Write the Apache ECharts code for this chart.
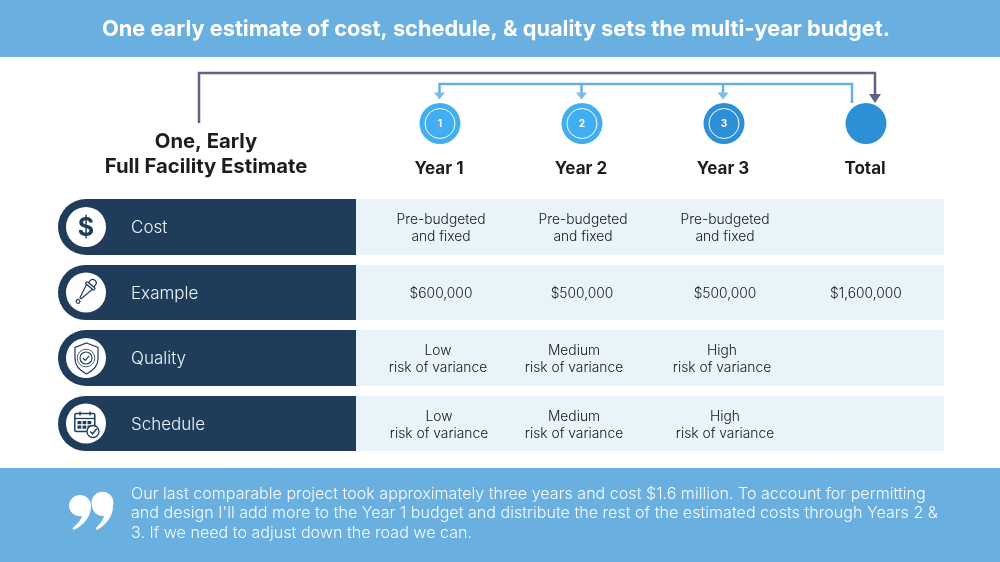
<!DOCTYPE html>
<html>
<head>
<meta charset="utf-8">
<style>html,body{margin:0;padding:0;background:#fff}#chart{width:1000px;height:562px}</style>
<script src="https://cdn.jsdelivr.net/npm/echarts@6/dist/echarts.min.js"></script>
</head>
<body>
<div id="chart"></div>
<script>
var titleText = 'One early estimate of cost, schedule, & quality sets the multi-year budget.';
var leadLines = ['One, Early', 'Full Facility Estimate'];
var columns = ['Year 1', 'Year 2', 'Year 3', 'Total'];
var stepLabels = ['1', '2', '3', ''];
var rowNames = ['Cost', 'Example', 'Quality', 'Schedule'];
var costCells = ['Pre-budgeted\nand fixed', 'Pre-budgeted\nand fixed', 'Pre-budgeted\nand fixed', ''];
var exampleCells = ['$600,000', '$500,000', '$500,000', '$1,600,000'];
var qualityCells = ['Low\nrisk of variance', 'Medium\nrisk of variance', 'High\nrisk of variance', ''];
var scheduleCells = ['Low\nrisk of variance', 'Medium\nrisk of variance', 'High\nrisk of variance', ''];
var noteLines = [
    'Our last comparable project took approximately three years and cost $1.6 million. To account for permitting',
    "and design I'll add more to the Year 1 budget and distribute the rest of the estimated costs through Years 2 &",
    '3. If we need to adjust down the road we can.'
];

var BLUE = '#69b0e0', PALEBLUE = '#7dbce6', NAVY = '#1f3d5a', PALE = '#e9f3fa', INK = '#1d1d1f', SLATE = '#5f6185';
var FONT = 'Inter, "Noto Sans", sans-serif';

var rowTops = [199, 265, 330, 396];
var rowHeights = [56, 55, 56, 55];
var colX = [440, 582, 724, 866];
var cellX = [
    [441, 583, 725, 866],
    [441, 582, 725, 866],
    [438, 574, 722, 866],
    [439, 574, 725, 866]
];
var tableCells = [costCells, exampleCells, qualityCells, scheduleCells];

var g = [];
var pathCount = 0;

function text(x, y, str, size, color, weight, align, lineHeight) {
    g.push({
        type: 'text',
        style: {
            x: x, y: y, text: str, fill: color,
            font: (weight || 400) + ' ' + size + 'px ' + FONT,
            textAlign: align || 'center', textVerticalAlign: 'middle',
            lineHeight: lineHeight || size * 1.2
        }
    });
}
function rect(x, y, w, h, fill, r) {
    g.push({ type: 'rect', shape: { x: x, y: y, width: w, height: h, r: r || 0 }, style: { fill: fill } });
}
function poly(points, color, width) {
    g.push({ type: 'polyline', shape: { points: points }, style: { stroke: color, lineWidth: width, fill: null } });
}
function arrow(x, tipY, color, half, len) {
    g.push({ type: 'polygon', shape: { points: [[x - half, tipY - len], [x + half, tipY - len], [x, tipY]] }, style: { fill: color } });
}
function circle(cx, cy, r, style) {
    g.push({ type: 'circle', shape: { cx: cx, cy: cy, r: r }, style: style });
}
// the graphic component has no plain path type, so each outline gets registered
function svgPath(d, style) {
    var name = 'outline' + (pathCount++);
    echarts.graphic.registerShape(name, echarts.graphic.extendPath(d, {}));
    g.push({ type: name, style: style });
}

// header and footer bands
rect(0, 0, 1000, 57, BLUE);
rect(0, 468, 1000, 94, BLUE);
text(496, 29, titleText, 21.75, '#fff', 700);

// brackets
poly([[199, 123], [199, 73], [875, 73], [875, 95]], SLATE, 2.5);
arrow(875, 103, SLATE, 6, 9);
poly([[852, 103], [852, 84], [439.5, 84], [439.5, 93]], BLUE, 2.5);
poly([[581.5, 84], [581.5, 93]], BLUE, 2.5);
poly([[723, 84], [723, 93]], BLUE, 2.5);
[439.5, 581.5, 723].forEach(function (x) { arrow(x, 99.5, PALEBLUE, 5.5, 7); });

// lead text
text(206, 142, leadLines[0], 20.3, INK, 700);
text(206, 167, leadLines[1], 20.3, INK, 700);

// column heads
var stepColors = ['#40aef0', '#40aef0', '#2d8fd6', '#2d8fd6'];
columns.forEach(function (name, i) {
    circle(colX[i], 123.5, 20.5, { fill: stepColors[i] });
    if (stepLabels[i]) {
        circle(colX[i], 123.5, 15, { fill: null, stroke: '#fff', lineWidth: 1 });
        text(colX[i], 123.5, stepLabels[i], 10, '#fff', 700);
    }
    text(colX[i] - 1, 168.5, name, 17, INK, 700);
});

// table rows
rowNames.forEach(function (name, i) {
    var top = rowTops[i], h = rowHeights[i], mid = top + h / 2;
    rect(356, top, 588, h, PALE);
    rect(58, top, 298, h, NAVY, [h / 2, 0, 0, h / 2]);
    circle(86, mid, 20, { fill: '#fff' });
    text(131, mid + 1, name, 17, '#eef3f7', 300, 'left');
    tableCells[i].forEach(function (val, c) {
        if (val) text(cellX[i][c], mid + 1.5, val, 13.8, '#161616', 300, 'center', 17);
    });
});

// dollar icon
text(86, 228, '$', 25, NAVY, 700);

// dropper icon
g.push({
    type: 'group', x: 85.5, y: 292, rotation: -0.67,
    children: [
        { type: 'rect', shape: { x: -3.5, y: -15, width: 7, height: 6, r: [3.5, 3.5, 0, 0] }, style: { fill: '#fff', stroke: NAVY, lineWidth: 1.2 } },
        { type: 'rect', shape: { x: -5.5, y: -9, width: 11, height: 2.5, r: 1 }, style: { fill: '#fff', stroke: NAVY, lineWidth: 1.2 } },
        { type: 'polygon', shape: { points: [[-3.8, -6.5], [3.8, -6.5], [0.8, 8], [-0.8, 8]] }, style: { fill: '#fff', stroke: NAVY, lineWidth: 1.2 } },
        { type: 'circle', shape: { cx: 0, cy: 12, r: 1.9 }, style: { fill: '#fff', stroke: NAVY, lineWidth: 1.2 } }
    ]
});

// shield icon
svgPath('M86.5 343 L98 347.5 L98 359 Q98 368 86.5 374 Q75 368 75 359 L75 347.5 Z', { fill: '#fff', stroke: NAVY, lineWidth: 1.2 });
circle(86, 358, 8.8, { fill: '#fff', stroke: NAVY, lineWidth: 0.8 });
circle(86, 358, 6, { fill: '#fff', stroke: NAVY, lineWidth: 1.1 });
poly([[83, 358], [85.3, 360.3], [89.2, 355.8]], NAVY, 1.2);

// calendar icon
rect(74.8, 413.5, 20, 18, '#fff', 1.5);
g[g.length - 1].style.stroke = NAVY;
g[g.length - 1].style.lineWidth = 1.5;
poly([[75, 418.5], [95, 418.5]], NAVY, 1.3);
poly([[80, 411.5], [80, 415.5]], NAVY, 1.4);
poly([[90, 411.5], [90, 415.5]], NAVY, 1.4);
[0, 1, 2].forEach(function (c) {
    [0, 1].forEach(function (r) { rect(77.5 + c * 5, 421 + r * 4.5, 3.8, 3.2, NAVY); });
});
circle(93, 431.5, 6, { fill: '#fff', stroke: NAVY, lineWidth: 1.3 });
poly([[90.3, 431.5], [92.5, 433.8], [96.8, 428.8]], NAVY, 1.5);

// quote mark
svgPath('M69 506 A11 11 0 1 1 91 506 C91 516 85 524 74 530 L72.5 528.5 C78 523 81 520 82 516 A11 11 0 0 1 69 506 Z', { fill: '#fff' });
svgPath('M92 506 A11 11 0 1 1 113 506 C113 516 107 524 97 530 L95.5 528.5 C101 523 103 520 104 516 A11 11 0 0 1 92 506 Z', { fill: '#fff' });

// note
noteLines.forEach(function (line, i) {
    text(131, 494 + i * 19.5, line, 16.1, '#f7fbfe', 300, 'left');
});

var myChart = echarts.init(document.getElementById('chart'), null, { renderer: 'canvas' });
myChart.setOption({ backgroundColor: '#fff', animation: false, graphic: { elements: g } });
</script>
</body>
</html>
